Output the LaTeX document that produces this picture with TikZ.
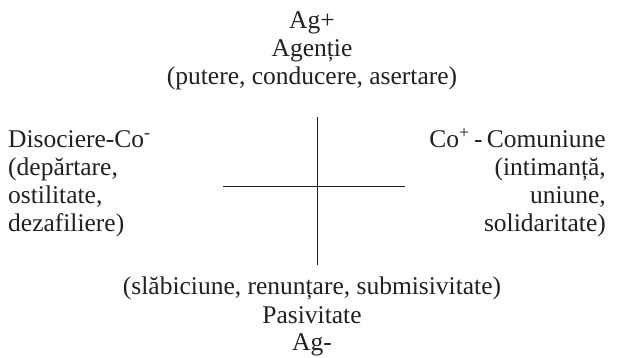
\documentclass[tikz,border=0pt]{standalone}
\usepackage{fontspec}
\setmainfont{Liberation Serif}
\usetikzlibrary{positioning}
\definecolor{cInk}{HTML}{231F20}
\tikzset{
  lbl/.style={inner sep=0pt, font=\fontsize{25.5}{28}\selectfont, text=cInk},
  axis/.style={line width=0.9pt, draw=cInk},
}
\begin{document}
\begin{tikzpicture}[x=1pt,y=1pt]
\useasboundingbox (0,0) rectangle (619,-358);
% cross
\coordinate (vt) at (317,-117);
\coordinate (vb) at (317,-265);
\coordinate (hl) at (223,-186);
\coordinate (hr) at (405,-186);
\draw[axis] (vt) -- (vb);
\draw[axis] (hl) -- (hr);
% labels (base = last line)
\node[lbl, align=center, anchor=base] (agp) at (312,-85) {Ag+\\Agenție\\(putere, conducere, asertare)};
\node[lbl, align=left, anchor=base west] (dis) at (8,-232) {Disociere-Co\textsuperscript{-}\\(depărtare,\\ostilitate,\\dezafiliere)};
\node[lbl, align=right, anchor=base east] (com) at (606,-232) {Co\textsuperscript{+}\,-\,Comuniune\\(intimanță,\\uniune,\\solidaritate)};
\node[lbl, align=center, anchor=base] (agm) at (312,-351) {(slăbiciune, renunțare, submisivitate)\\Pasivitate\\Ag-};
\end{tikzpicture}
\end{document}
